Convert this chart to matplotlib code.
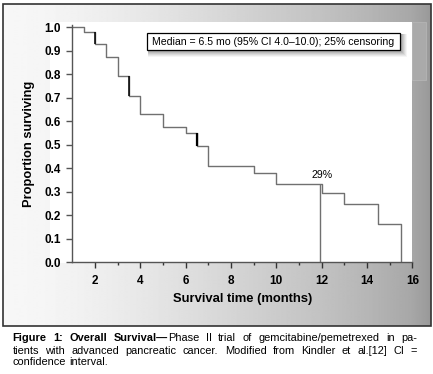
import numpy as np
import matplotlib
matplotlib.use("Agg")
import matplotlib.pyplot as plt
from matplotlib.patches import Rectangle

plt.rcParams['font.family'] = ['Liberation Sans', 'DejaVu Sans']

# Kaplan-Meier steps
times = [1.0, 1.5, 2.0, 2.5, 3.0, 3.5, 4.0, 5.0, 6.0, 6.5, 7.0, 9.0, 10.0, 12.0, 13.0, 14.5, 15.5]
surv = [1.0, 0.977, 0.929, 0.871, 0.793, 0.708, 0.630, 0.574, 0.548, 0.494, 0.409, 0.381, 0.333, 0.293, 0.246, 0.161, 0.0]
# drops drawn darker (censoring marks)
dark_drops = [2.0, 3.5, 6.5]
mark_time = 11.94
mark_label = "29%"
x_major = [2, 4, 6, 8, 10, 12, 14, 16]
x_minor = [3, 5, 7, 9, 11, 13, 15]
y_ticks = [0.0, 0.1, 0.2, 0.3, 0.4, 0.5, 0.6, 0.7, 0.8, 0.9, 1.0]
box_text = "Median = 6.5 mo (95% CI 4.0\u201310.0); 25% censoring"
# caption: list of lines, each a list of (text, bold[, plain tail]) words
cap_lines = [
    [("Figure", True), ("1:", True), ("Overall", True), ("Survival\u2014", True, "Phase"), ("II", False),
     ("trial", False), ("of", False), ("gemcitabine/pemetrexed", False), ("in", False), ("pa-", False)],
    [("tients", False), ("with", False), ("advanced", False), ("pancreatic", False), ("cancer.", False),
     ("Modified", False), ("from", False), ("Kindler", False), ("et", False), ("al.[12]", False),
     ("CI", False), ("=", False)],
    [("confidence", False), ("interval.", False)],
]

W, H = 433, 374
fig = plt.figure(figsize=(W / 100, H / 100), dpi=100)
fig.patch.set_facecolor("white")

# background layer in pixel coords
bg = fig.add_axes([0, 0, 1, 1], zorder=-5)
bg.set_xlim(0, W)
bg.set_ylim(H, 0)
bg.axis("off")

gx = np.arange(3, 432)
gv = np.interp(gx, [3, 50, 106, 152, 190, 233, 272, 317, 370, 412, 431],
               [0.97, 0.96, 0.93, 0.9, 0.87, 0.835, 0.8, 0.765, 0.71, 0.655, 0.6])
grad = np.tile(gv, (2, 1))
bg.imshow(grad, cmap="gray", vmin=0, vmax=1, extent=(3, 431, 326, 4), aspect="auto", zorder=0)
bg.add_patch(Rectangle((412, 22), 14, 58, facecolor="#aaaaaa", edgecolor="#b8b8b8", lw=0.5, zorder=1))
bg.add_patch(Rectangle((50, 22), 362, 241, facecolor="white", edgecolor="none", zorder=1))
bg.add_patch(Rectangle((3, 4), 428, 322, facecolor="none", edgecolor="#333333", lw=1.2, zorder=5))

# box with soft shadow
for k, a in zip(range(6, 0, -1), [0.04, 0.05, 0.06, 0.07, 0.08, 0.09]):
    bg.add_patch(Rectangle((147 + 1, 33 + 1), 253 + k, 17 + k, facecolor="black", alpha=a,
                           edgecolor="none", zorder=2))
bg.add_patch(Rectangle((147, 33), 253, 17, facecolor="white", edgecolor="black", lw=0.9, zorder=3))
bg.text(273.5, 41.8, box_text, ha="center", va="center", fontsize=7.6, zorder=4)

ax = fig.add_axes([72.3 / W, 1 - 262.3 / H, 340 / W, 1.01 * 235.3 / H])
ax.patch.set_alpha(0)
ax.step(times, surv, where="post", color="#707070", lw=1.0)
for t in dark_drops:
    i = times.index(t)
    ax.vlines(t, surv[i], surv[i - 1], color="black", lw=1.6 if t == 6.5 else 1.1)
i12 = times.index(12.0)
ax.vlines(mark_time, 0, surv[i12 - 1], color="#707070", lw=1.0)
ax.text(12.0, 0.372, mark_label, ha="center", va="center", fontsize=7.6)

ax.set_xlim(1, 16)
ax.set_ylim(0, 1.01)
ax.set_xticks(x_major)
ax.set_xticks(x_minor, minor=True)
ax.set_yticks(y_ticks)
ax.set_yticklabels([f"{v:.1f}" for v in y_ticks])
for s in ["top", "right"]:
    ax.spines[s].set_visible(False)
for s in ["left", "bottom"]:
    ax.spines[s].set_color("#555555")
    ax.spines[s].set_linewidth(1.0)
ax.tick_params(axis="x", which="major", length=4.5, width=1, color="#333333", pad=5)
ax.tick_params(axis="x", which="minor", length=2.5, width=1, color="#333333")
ax.tick_params(axis="y", length=4.5, width=1, color="#555555", pad=3.5)
for lab in ax.get_xticklabels() + ax.get_yticklabels():
    lab.set_fontweight("bold")
    lab.set_fontsize(8.5)
ax.set_xlabel("Survival time (months)", fontsize=9.4, fontweight="bold", labelpad=4)
ax.set_ylabel("Proportion surviving", fontsize=9.3, fontweight="bold", labelpad=7)

# caption, justified word by word
fig.canvas.draw()
r = fig.canvas.get_renderer()
left_px, right_px = 12.7, 417
baselines = [341.3, 353.7, 365.3]
cap_size = 7.9


def word_width(txt, bold):
    t = fig.text(0, 0, txt, fontsize=cap_size, fontweight="bold" if bold else "normal")
    w = t.get_window_extent(r).width
    t.remove()
    return w


space_w = word_width("a b", False) - word_width("ab", False)
for n, (line, b) in enumerate(zip(cap_lines, baselines)):
    parts = []
    for wd in line:
        pw = word_width(wd[0], wd[1])
        tail = wd[2] if len(wd) > 2 else ""
        tw = word_width(tail, False) if tail else 0
        parts.append((wd[0], wd[1], pw, tail, tw))
    total = sum(p[2] + p[4] for p in parts)
    if n < len(cap_lines) - 1:
        gap = (right_px - left_px - total) / (len(parts) - 1)
    else:
        gap = space_w
    x = left_px
    for txt, bold, pw, tail, tw in parts:
        fig.text(x / W, 1 - b / H, txt, fontsize=cap_size, fontweight="bold" if bold else "normal",
                 va="baseline")
        if tail:
            fig.text((x + pw) / W, 1 - b / H, tail, fontsize=cap_size, va="baseline")
        x += pw + tw + gap

fig.savefig("out.png", dpi=100)
